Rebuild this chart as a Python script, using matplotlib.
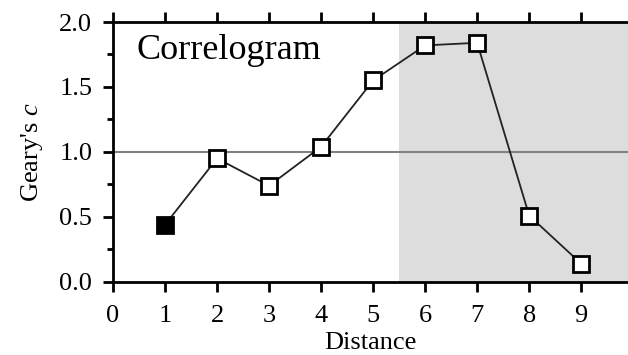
import matplotlib
matplotlib.use("Agg")
import matplotlib.pyplot as plt
from matplotlib.ticker import MultipleLocator

distance = [1, 2, 3, 4, 5, 6, 7, 8, 9]
geary_c = [0.44, 0.95, 0.74, 1.04, 1.55, 1.82, 1.84, 0.51, 0.14]
significant = [True, False, False, False, False, False, False, False, False]
xticks = [0, 1, 2, 3, 4, 5, 6, 7, 8, 9]
yticks = [0.0, 0.5, 1.0, 1.5, 2.0]

plt.rcParams['font.family'] = ['Liberation Serif', 'DejaVu Serif']
plt.rcParams['mathtext.fontset'] = 'custom'
plt.rcParams['mathtext.rm'] = 'Liberation Serif'
plt.rcParams['mathtext.it'] = 'Liberation Serif:italic'

fig = plt.figure(figsize=(6.28, 3.55), dpi=100)
ax = fig.add_axes([0.18, 0.206, 0.82, 0.732])

ax.set_xlim(0, 9.9)
ax.set_ylim(0, 2.0)
ax.axvspan(5.5, 9.9, color='#dddddd', zorder=0, lw=0)
ax.axhline(1.0, color='#808080', lw=1.5, zorder=1)

ax.plot(distance, geary_c, color='#222222', lw=1.3, zorder=2)
for xv, yv, s in zip(distance, geary_c, significant):
    ax.plot(xv, yv, marker='s', ms=12, mec='black', mew=2,
            mfc='black' if s else 'white', zorder=3, ls='none')

ax.set_xticks(xticks)
ax.set_yticks(yticks)
ax.set_yticklabels([f"{v:.1f}" for v in yticks])
ax.yaxis.set_minor_locator(MultipleLocator(0.25))
ax.tick_params(axis='both', which='major', direction='out', length=7, width=2,
               labelsize=19, top=True, labeltop=False)
ax.tick_params(axis='x', which='major', pad=10)
ax.tick_params(axis='y', which='major', pad=8)
ax.tick_params(axis='y', which='minor', direction='out', length=4.5, width=2)
for side in ['left', 'bottom', 'top']:
    ax.spines[side].set_linewidth(2)
ax.spines['right'].set_visible(False)

ax.set_xlabel('Distance', fontsize=19, labelpad=3)
ax.set_ylabel("Geary's $c$", fontsize=19, labelpad=10)
ax.text(0.45, 1.78, 'Correlogram', fontsize=26, va='center', ha='left')

fig.savefig('out.png', dpi=100)
